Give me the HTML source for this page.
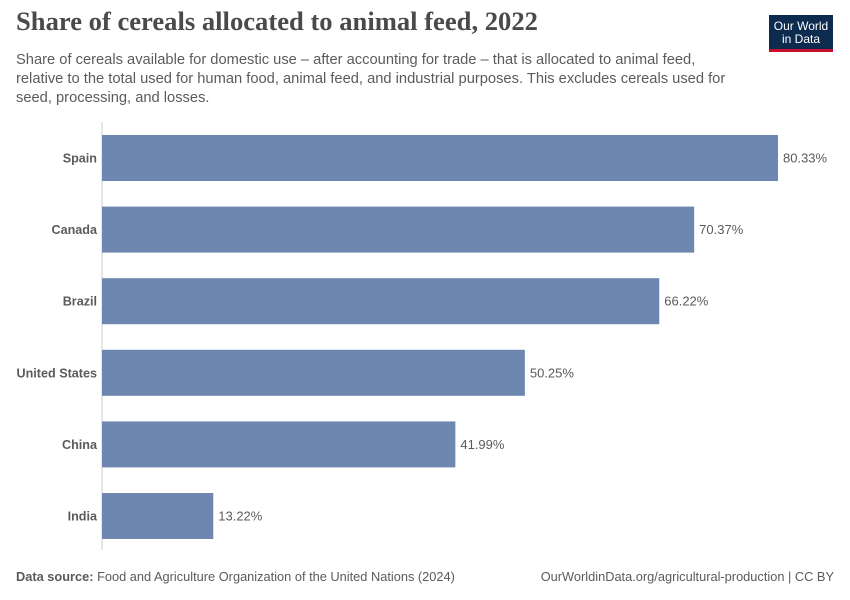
<!DOCTYPE html>
<html><head><meta charset="utf-8"><style>
body{margin:0;background:#fff;font-family:"Liberation Sans",sans-serif;}
#w{position:relative;width:850px;height:600px;overflow:hidden;}
.t{position:absolute;white-space:nowrap;}
</style></head><body><div id="w">
<div class="t" style="left:16px;top:6px;font-family:'Liberation Serif',serif;font-size:26.6px;font-weight:bold;color:#4a4a4a;">Share of cereals allocated to animal feed, 2022</div>
<div class="t" style="left:16px;top:51px;font-size:14.7px;line-height:19px;color:#5b5b5b;">Share of cereals available for domestic use – after accounting for trade – that is allocated to animal feed,<br>relative to the total used for human food, animal feed, and industrial purposes. This excludes cereals used for<br>seed, processing, and losses.</div>
<div style="position:absolute;left:769px;top:15px;width:64px;height:37px;background:#0d2a4f;border-bottom:3px solid #c8102e;box-sizing:border-box;color:#fff;font-size:12px;line-height:13px;text-align:center;padding-top:5px;">Our World<br>in Data</div>
<svg id="svg" width="850" height="600" style="position:absolute;left:0;top:0"></svg>
<div class="t" style="left:16px;top:569px;font-size:12.8px;color:#5b5b5b;"><b>Data source:</b> Food and Agriculture Organization of the United Nations (2024)</div>
<div class="t" style="right:16px;top:569px;font-size:12.8px;color:#5b5b5b;">OurWorldinData.org/agricultural-production | CC BY</div>
</div>
<script>
const categories=["Spain","Canada","Brazil","United States","China","India"];
const values=[80.33,70.37,66.22,50.25,41.99,13.22];
const labels=["80.33%","70.37%","66.22%","50.25%","41.99%","13.22%"];
const ns="http://www.w3.org/2000/svg",svg=document.getElementById('svg');
const x0=102,xs=v=>x0+v*(676/80.33),yb=i=>135+i*71.6,bh=46;
function mk(t,a){const e=document.createElementNS(ns,t);for(const k in a)e.setAttribute(k,a[k]);svg.appendChild(e);return e;}
const ax=mk('line',{x1:x0,x2:x0,y1:122,y2:550,stroke:'#ccc','stroke-width':1});


categories.forEach((c,i)=>{
 const r=mk('rect',{x:x0,y:yb(i),width:xs(values[i])-x0,height:bh,fill:'#6d87b0'});
 
 
 const l=mk('text',{x:97,y:yb(i)+bh/2+4.5,'text-anchor':'end','font-size':12.6,'font-weight':'bold',fill:'#5b5b5b','font-family':'Liberation Sans, sans-serif'});
 l.textContent=c;
 
 
 const v=mk('text',{x:xs(values[i])+5,y:yb(i)+bh/2+4.5,'font-size':13,fill:'#5b5b5b','font-family':'Liberation Sans, sans-serif'});
 v.textContent=labels[i];
 
 
});
</script></body></html>
